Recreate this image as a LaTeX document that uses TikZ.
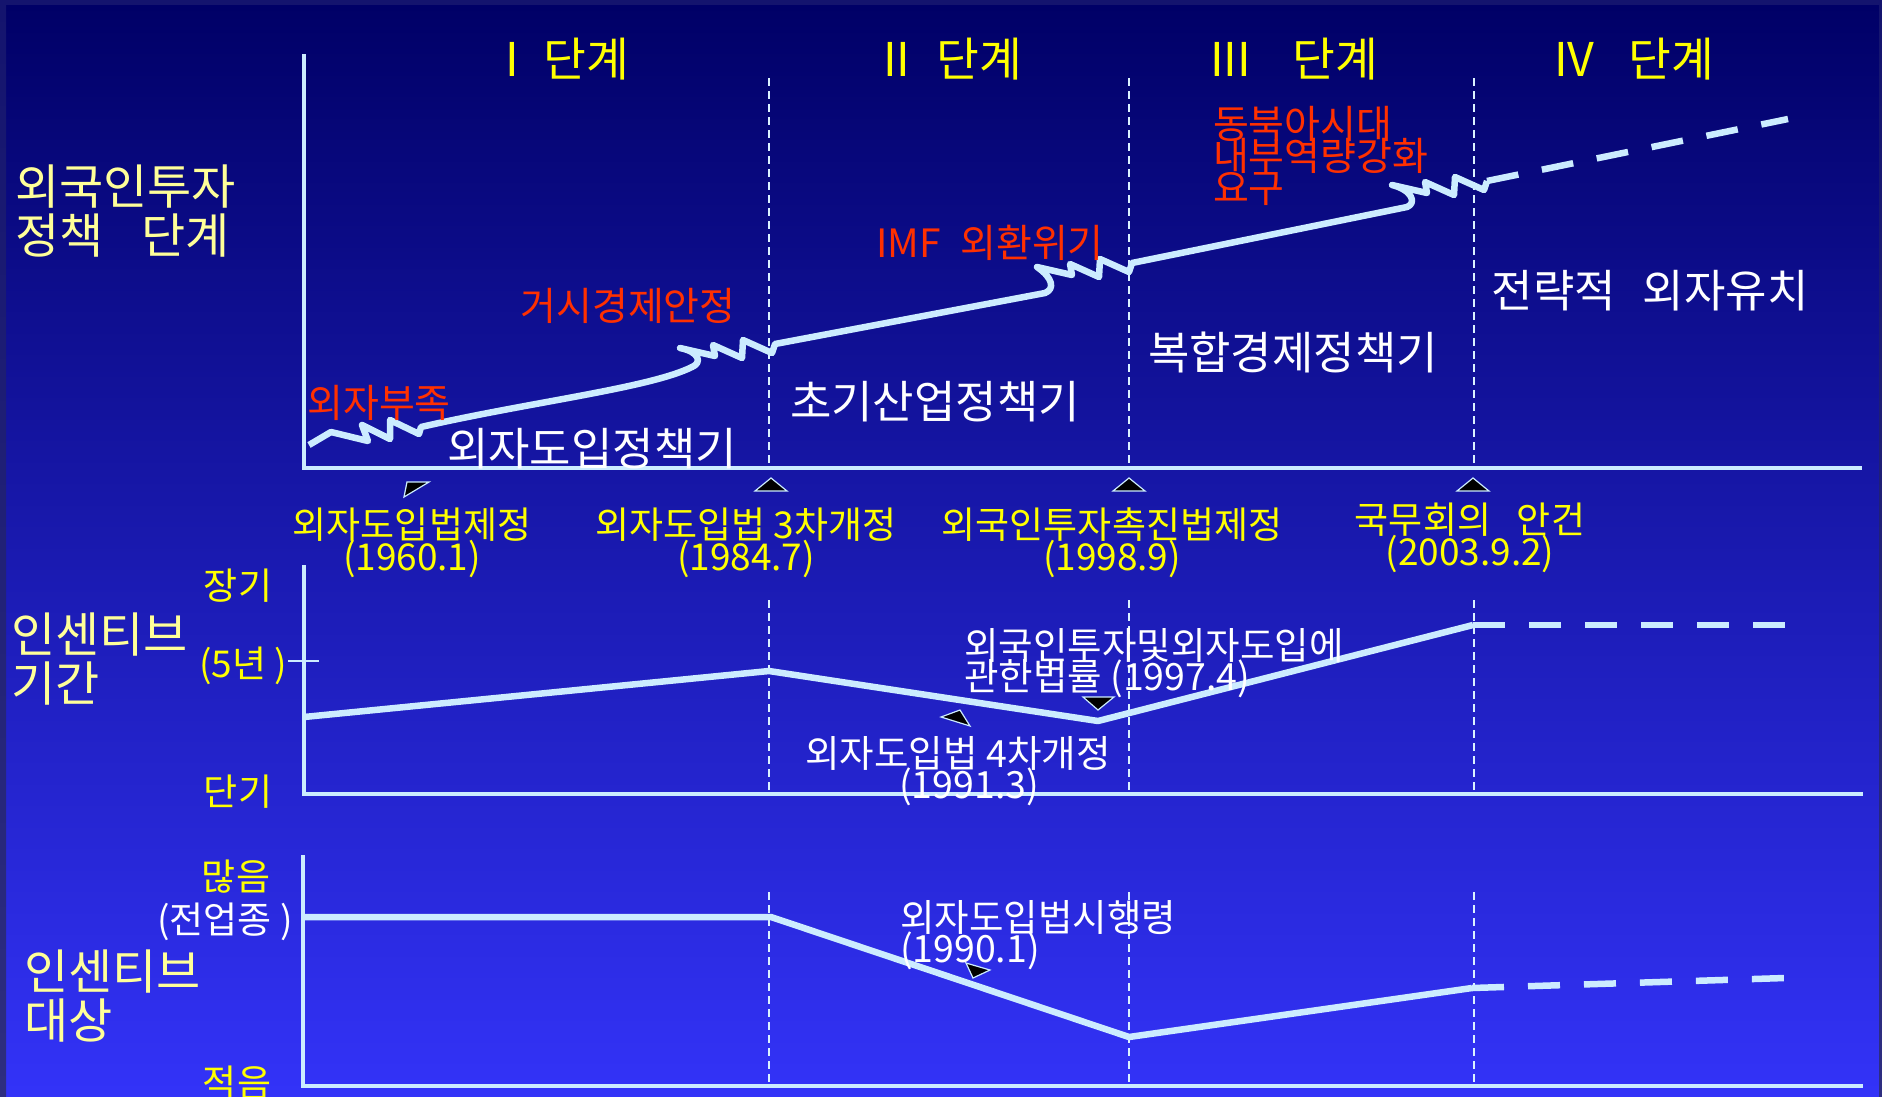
\documentclass[tikz,border=0pt]{standalone}
\usepackage{fontspec}
\setmainfont{Noto Sans CJK KR}
\lineskiplimit=-200pt
\definecolor{bgtop}{RGB}{0,0,102}
\definecolor{bgbot}{RGB}{51,51,248}
\definecolor{edgetop}{RGB}{20,20,110}
\definecolor{edgebot}{RGB}{46,46,128}
\definecolor{ln}{RGB}{204,236,255}
\definecolor{yel}{RGB}{255,255,0}
\definecolor{pyel}{RGB}{255,255,153}
\definecolor{kred}{RGB}{255,48,0}
\tikzset{
  tx/.style={inner sep=0pt, outer sep=0pt},
  hdr/.style={tx, text=yel, font=\fontsize{46.5bp}{50bp}\selectfont},
  side/.style={tx, text=pyel, align=left, font=\fontsize{48bp}{49bp}\selectfont},
  ev/.style={tx, text=yel, align=center, font=\fontsize{37bp}{32bp}\selectfont},
  note/.style={tx, text=white, align=left, font=\fontsize{37.5bp}{31bp}\selectfont},
  notec/.style={note, align=center},
  hot/.style={tx, text=kred, align=left, font=\fontsize{39bp}{32bp}\selectfont},
  per/.style={tx, text=white, font=\fontsize{45bp}{48bp}\selectfont},
  axl/.style={tx, text=yel, font=\fontsize{37bp}{40bp}\selectfont},
  axisline/.style={draw=ln, line width=3.5bp},
  grid/.style={draw=ln!70!white, line width=1.2bp, dash pattern=on 8bp off 5bp},
  curve/.style={draw=ln, line width=6.5bp, line join=round, line cap=butt},
  dcurve/.style={curve, dash pattern=on 32bp off 24bp},
  trimark/.style={fill=black, draw=ln, line width=1.2bp, line join=miter},
}
\begin{document}
\begin{tikzpicture}[x=1bp,y=-1bp]
\useasboundingbox (0,0) rectangle (1882,1096);
\shade[top color=bgtop, bottom color=bgbot] (0,0) rectangle (1882,1096);
\shade[top color=edgetop, bottom color=edgebot] (0,0) rectangle (6,1096);
\shade[top color=edgetop, bottom color=edgebot] (1879,0) rectangle (1882,1096);
\fill[edgetop] (0,0) rectangle (1882,5);

% ---------------- top chart ----------------
\draw[grid] (769,78) -- (769,468);
\draw[grid] (1129,78) -- (1129,468);
\draw[grid] (1474,78) -- (1474,468);
\draw[axisline] (304,54) -- (304,468) -- (1862,468);

\draw[curve] (309,445) -- (331,432)
  -- (368,441) -- (362,425) -- (390,439) -- (390,420) -- (419,434) -- (421,427)
  .. controls (530,402) and (650,388) .. (692,367)
  .. controls (702,363) and (700,352) .. (680,348)
  -- (715,356) -- (713,345) -- (742,358) -- (743,340) -- (772,353) -- (775,344)
  -- (1045,293) .. controls (1055,289) and (1053,278) .. (1037,267)
  -- (1072,275) -- (1070,264) -- (1099,277) -- (1100,259) -- (1129,272) -- (1132,263)
  -- (1407,207) .. controls (1417,203) and (1412,190) .. (1392,185)
  -- (1427,193) -- (1425,182) -- (1454,195) -- (1455,177) -- (1484,190) -- (1487,181);
\draw[dcurve] (1487,181) -- (1788,119);

\node[hdr, anchor=west] (s1) at (505,59) {I\hspace{25bp}단계};
\node[hdr, anchor=west] (s2) at (883,59) {II\hspace{26bp}단계};
\node[hdr, anchor=west] (s3) at (1210,59) {III\hspace{42bp}단계};
\node[hdr, anchor=west] (s4) at (1554,59) {IV\hspace{34bp}단계};

\node[side, anchor=north west] (lab1) at (15,165) {외국인투자\\정책\hspace{0.8em}단계};

\node[hot] (r1) at (379,403) {외자부족};
\node[hot] (r2) at (628,306) {거시경제안정};
\node[hot] (r3) at (990,243) {IMF\hspace{0.5em}외환위기};
\node[hot, anchor=north west] (r4) at (1213,106) {동북아시대\\내부역량강화\\요구};

\node[per] (p1) at (592,449) {외자도입정책기};
\node[per] (p2) at (935,402) {초기산업정책기};
\node[per] (p3) at (1293,352) {복합경제정책기};
\node[per] (p4) at (1650,291) {전략적\hspace{0.6em}외자유치};

\draw[trimark] (407,482) -- (429,482) -- (404,497) -- cycle;
\draw[trimark] (755,491) -- (787,491) -- (771,478) -- cycle;
\draw[trimark] (1113,491) -- (1145,491) -- (1129,478) -- cycle;
\draw[trimark] (1457,491) -- (1489,491) -- (1473,478) -- cycle;

\node[ev] (e1) at (412,543) {외자도입법제정\\(1960.1)};
\node[ev] (e2) at (746,543) {외자도입법 3차개정\\(1984.7)};
\node[ev] (e3) at (1112,543) {외국인투자촉진법제정\\(1998.9)};
\node[ev] (e4) at (1470,538) {국무회의\hspace{0.7em}안건\\(2003.9.2)};

% ---------------- middle chart ----------------
\draw[grid] (769,600) -- (769,794);
\draw[grid] (1129,600) -- (1129,794);
\draw[grid] (1474,600) -- (1474,794);
\draw[axisline] (304,565) -- (304,794) -- (1863,794);
\draw[ln, line width=1.5bp] (288,661) -- (319,661);

\node[side, anchor=north west] (lab2) at (11,613) {인센티브\\기간};
\node[axl] (m1) at (238,586) {장기};
\node[axl] (m2) at (243,666) {(5년 )};
\node[axl] (m3) at (238,792) {단기};

\draw[curve] (304,717) -- (769,671) -- (1098,721) -- (1473,625);
\draw[dcurve] (1473,625) -- (1787,625);

\draw[trimark] (1083,697) -- (1114,697) -- (1098,710) -- cycle;
\draw[trimark] (960,710) -- (941,717) -- (970,726) -- cycle;

\node[note, anchor=north west] (n1) at (964,628) {외국인투자및외자도입에\\관한법률 (1997.4)};
\node[notec] (n2) at (958,771) {외자도입법 4차개정\\\hspace*{22bp}(1991.3)};

% ---------------- bottom chart ----------------
\draw[grid] (769,892) -- (769,1086);
\draw[grid] (1129,892) -- (1129,1086);
\draw[grid] (1474,892) -- (1474,1086);
\draw[axisline] (303,855) -- (303,1086) -- (1863,1086);

\node[side, anchor=north west] (lab3) at (24,950) {인센티브\\대상};
\node[axl] (b1) at (236,877) {많음};
\node[axl, text=white] (b2) at (225,922) {(전업종 )};
\node[axl] (b3) at (237,1083) {적음};

\draw[curve] (304,917) -- (771,917) -- (1129,1037) -- (1472,988);
\draw[dcurve] (1472,988) -- (1785,978);

\draw[trimark] (966,963) -- (990,970) -- (973,978) -- cycle;
\node[note, anchor=north west] (n3) at (900,900) {외자도입법시행령\\(1990.1)};
\end{tikzpicture}
\end{document}
